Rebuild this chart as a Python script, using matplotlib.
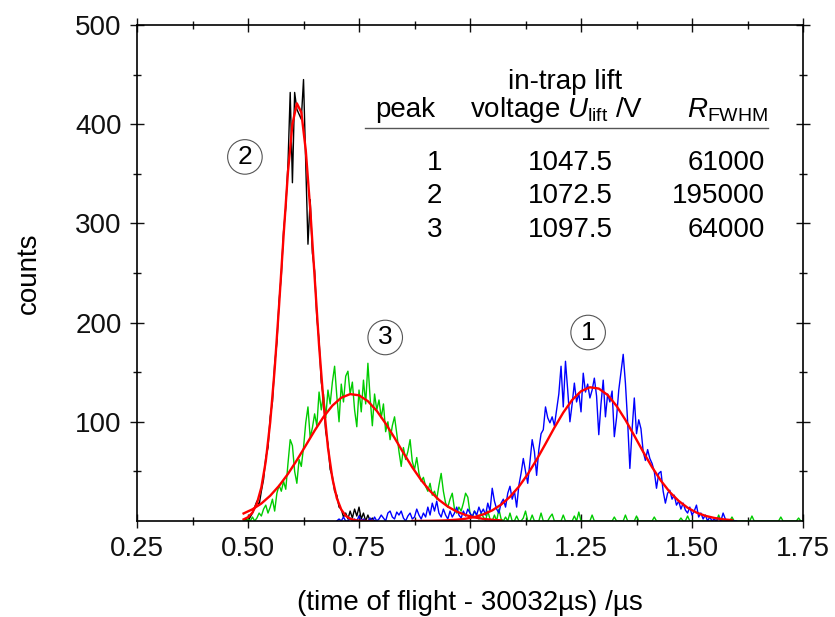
import numpy as np
import matplotlib
matplotlib.use('Agg')
from matplotlib import pyplot as plt
from matplotlib.ticker import MultipleLocator, FixedLocator

plt.rcParams['font.family'] = 'Liberation Sans'
plt.rcParams['mathtext.fontset'] = 'custom'
plt.rcParams['mathtext.rm'] = 'Liberation Sans'
plt.rcParams['mathtext.it'] = 'Liberation Sans:italic'

# histogram data, bin width 0.005 us
bin_w = 0.005

# peak 2 (black)
black_start = 0.490
black_counts = [0, 2, 0, 4, 8, 14, 20, 16, 30, 42,
                64, 74, 105, 120, 158, 180, 222, 248, 292, 316,
                360, 432, 341, 432, 415, 410, 405, 445, 360, 279,
                324, 270, 252, 205, 182, 140, 124, 90, 78, 52,
                45, 30, 26, 14, 12, 4, 8, 2, 10, 3,
                12, 5, 14, 2, 8, 0, 6, 0, 3, 0, 0]

# peak 3 (green)
green_start = 0.490
green_counts = [0, 0, 2, 0, 4, 0, 3, 8, 5, 12,
                16, 8, 14, 22, 10, 28, 36, 30, 40, 32,
                58, 82, 76, 50, 38, 62, 55, 74, 99, 115,
                84, 94, 108, 96, 130, 112, 128, 104, 132, 118,
                140, 156, 126, 100, 138, 120, 146, 151, 128, 140,
                112, 95, 132, 110, 142, 118, 159, 124, 96, 128,
                112, 122, 104, 118, 90, 100, 82, 96, 105, 88,
                70, 55, 74, 62, 70, 82, 60, 52, 64, 48,
                40, 44, 35, 30, 38, 26, 30, 22, 36, 48,
                30, 18, 14, 22, 28, 12, 8, 14, 10, 18,
                28, 24, 8, 4, 10, 6, 2, 8, 4, 0,
                10, 2, 0, 6, 0, 12, 2, 0, 4, 0,
                8, 0, 0, 5, 0, 0, 3, 10, 0, 0,
                6, 0, 0, 0, 8, 0, 0, 0, 4, 7,
                0, 0, 0, 0, 6, 0, 0, 0, 0, 5,
                0, 9, 0, 0, 0, 0, 0, 6, 0, 0,
                0, 0, 0, 0, 0, 0, 0, 4, 0, 0,
                0, 0, 6, 0, 0, 0, 0, 5, 0, 0,
                0, 0, 0, 0, 0, 4, 0, 0, 0, 0,
                0, 0, 0, 0, 0, 0, 0, 3, 0, 0,
                5, 0, 0, 0, 0, 0, 0, 0, 0, 0,
                0, 0, 0, 0, 6, 0, 0, 0, 0, 0,
                4, 0, 0, 0, 0, 0, 0, 0, 0, 5,
                0, 0, 0, 0, 0, 0, 0, 0, 0, 0,
                0, 0, 4, 0, 0, 0, 0, 0, 0, 0,
                3, 0, 0]

# peak 1 (blue)
blue_start = 0.700
blue_counts = [0, 2, 0, 4, 0, 0, 3, 0, 2, 0,
               5, 0, 2, 0, 0, 3, 0, 4, 0, 2,
               6, 3, 0, 8, 10, 4, 2, 9, 6, 10,
               3, 0, 5, 8, 2, 4, 12, 6, 2, 8,
               4, 14, 6, 18, 10, 20, 8, 4, 12, 6,
               2, 10, 4, 8, 14, 6, 3, 10, 5, 12,
               8, 4, 10, 6, 14, 8, 12, 6, 18, 10,
               33, 20, 12, 8, 18, 22, 14, 28, 35, 22,
               30, 14, 36, 48, 63, 50, 38, 60, 82, 70,
               46, 72, 88, 92, 115, 104, 99, 105, 96, 112,
               128, 156, 115, 161, 132, 100, 118, 139, 120, 129,
               110, 149, 130, 138, 124, 132, 144, 126, 87, 118,
               142, 105, 128, 120, 131, 85, 104, 132, 150, 168,
               139, 100, 53, 92, 124, 88, 102, 93, 70, 61,
               72, 63, 58, 50, 33, 48, 50, 30, 18, 28,
               31, 22, 26, 16, 20, 12, 18, 11, 8, 14,
               6, 10, 16, 4, 8, 2, 6, 0, 4, 0,
               2, 0, 3, 0, 8, 2, 0, 0, 0, 0, 0]

# fitted curves (red)
fit2_start, fit2_step = 0.49, 0.01
fit2 = [1.6, 3.8, 8.5, 17.6, 33.8, 60.3, 99.7, 153, 217.7, 287,
        352, 400, 421, 412, 374, 315, 246, 177, 120, 74,
        43, 23, 11.5, 5.3, 2.3, 0.9, 0.3, 0.1, 0, 0]

fit3_start, fit3_step = 0.49, 0.02
fit3 = [7.6, 11.8, 17.6, 25.5, 35.5, 47.5, 61.3, 76.1, 91.1, 104.9,
        116.3, 124.3, 127.9, 126.7, 120.8, 111, 98.2, 83.8, 68.6, 54.1,
        41.2, 30.2, 21.3, 14.5, 9.5, 6.0, 3.6, 2.1, 1.2, 0.6]

fit1_start, fit1_step = 0.87, 0.02
fit1 = [0.04, 0.08, 0.17, 0.35, 0.69, 1.3, 2.3, 4.0, 6.7, 10.7,
        16.5, 24.4, 34.6, 47.2, 61.8, 77.8, 94.1, 109.3, 122, 130.8,
        134.8, 133.5, 127, 116, 101.9, 86, 69.7, 54.3, 40.6, 29.1,
        20.2, 13.4, 8.5, 5.2, 3.1, 1.7, 0.9]

peaks = ['1', '2', '3']
voltages = ['1047.5', '1072.5', '1097.5']
resolutions = ['61000', '195000', '64000']


def grid(start, step, vals):
    return start + step * np.arange(len(vals))


fig = plt.figure(figsize=(8.35, 6.17), dpi=100)
ax = fig.add_axes([0.1641, 0.1556, 0.7976, 0.8039])

ax.plot(grid(black_start, bin_w, black_counts), black_counts, color='black', lw=1.0)
ax.plot(grid(green_start, bin_w, green_counts), green_counts, color='#00cc00', lw=1.0)
ax.plot(grid(blue_start, bin_w, blue_counts), blue_counts, color='#0000ff', lw=1.0)

ax.plot(grid(fit2_start, fit2_step, fit2), fit2, color='red', lw=1.7)
ax.plot(grid(fit3_start, fit3_step, fit3), fit3, color='red', lw=1.7)
ax.plot(grid(fit1_start, fit1_step, fit1), fit1, color='red', lw=1.7)

ax.set_xlim(0.25, 1.75)
ax.set_ylim(0, 500)
ax.xaxis.set_major_locator(MultipleLocator(0.25))
ax.xaxis.set_minor_locator(MultipleLocator(0.125))
ax.yaxis.set_major_locator(FixedLocator([100, 200, 300, 400, 500]))
ax.yaxis.set_minor_locator(FixedLocator([50, 150, 250, 350, 450]))
ax.xaxis.set_major_formatter(matplotlib.ticker.FormatStrFormatter('%.2f'))
ax.tick_params(which='both', direction='inout', top=True, right=True,
               labelsize=20, width=1.0, pad=6, colors='#111111')
ax.tick_params(which='major', length=10)
ax.tick_params(which='minor', length=6)
for s in ax.spines.values():
    s.set_linewidth(1.2)

ax.set_xlabel('(time of flight - 30032µs) /µs', fontsize=20, labelpad=20)
ax.set_ylabel('counts', fontsize=20, labelpad=24)

# peak labels
circ = dict(boxstyle='circle,pad=0.2', fc='white', ec='#555555', lw=0.8)
ax.text(0.493, 367, '2', fontsize=19, ha='center', va='center', bbox=circ)
ax.text(0.809, 185, '3', fontsize=19, ha='center', va='center', bbox=circ)
ax.text(1.266, 190, '1', fontsize=19, ha='center', va='center', bbox=circ)

# table
fs = 20
ax.text(1.214, 435.5, 'in-trap lift', fontsize=fs, ha='center', va='baseline')
ax.text(0.854, 407, 'peak', fontsize=fs, ha='center', va='baseline')
ax.text(1.196, 407, r'voltage $U_{\mathrm{lift}}$ /V', fontsize=fs, ha='center', va='baseline')
ax.text(1.671, 407, r'$R_{\mathrm{FWHM}}$', fontsize=fs, ha='right', va='baseline')
ax.plot([0.764, 1.671], [396, 396], color='#555555', lw=1.0)
for p, v, r, yy in zip(peaks, voltages, resolutions, [354, 320.5, 286.5]):
    ax.text(0.937, yy, p, fontsize=fs, ha='right', va='baseline')
    ax.text(1.225, yy, v, fontsize=fs, ha='center', va='baseline')
    ax.text(1.664, yy, r, fontsize=fs, ha='right', va='baseline')

fig.savefig('out.png', dpi=100)
